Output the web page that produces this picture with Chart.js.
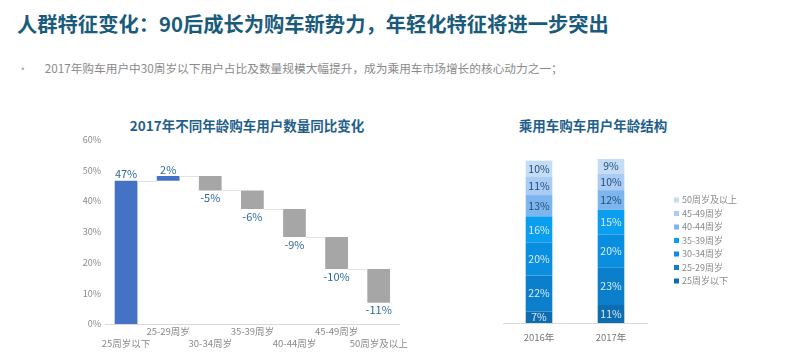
<!DOCTYPE html>
<html>
<head>
<meta charset="utf-8">
<script src="https://cdn.jsdelivr.net/npm/chart.js@4"></script>
<style>
  body { margin: 0; width: 800px; height: 358px; background: #fff; position: relative; overflow: hidden;
         font-family: "Noto Sans CJK SC", "Noto Sans", sans-serif; }
  .title { position: absolute; left: 17px; top: 8px; font-size: 20.3px; font-weight: bold; color: #1a5b7c; white-space: nowrap; }
  .bullet { position: absolute; left: 17px; top: 59px; font-size: 11.7px; color: #8a8a8a; white-space: nowrap; }
  .bullet span { margin-right: 16px; color: #b0b0b0; }
  .sub { position: absolute; font-size: 13.5px; font-weight: bold; color: #1f5f8c; white-space: nowrap; transform: translateX(-50%); }
  .box { position: absolute; }
</style>
</head>
<body>
<div class="title">人群特征变化：90后成长为购车新势力，年轻化特征将进一步突出</div>
<div class="bullet"><span>•</span>2017年购车用户中30周岁以下用户占比及数量规模大幅提升，成为乘用车市场增长的核心动力之一；</div>
<div class="sub" style="left:247px; top:115px;">2017年不同年龄购车用户数量同比变化</div>
<div class="sub" style="left:593px; top:115px;">乘用车购车用户年龄结构</div>
<div class="box" style="left:60px; top:130px; width:350px; height:222px;"><canvas id="waterfall"></canvas></div>
<div class="box" style="left:460px; top:150px; width:330px; height:195px;"><canvas id="structure"></canvas></div>
<script>
// 左图：各年龄段同比变化（瀑布）
const ageGroups = ["25周岁以下", "25-29周岁", "30-34周岁", "35-39周岁", "40-44周岁", "45-49周岁", "50周岁及以上"];
const changeValues = [46.6, 1.5, -4.7, -6.0, -9.1, -10.4, -11.0];
const changeTicks = [0, 10, 20, 30, 40, 50, 60];

// 右图：年龄结构
const years = ["2016年", "2017年"];
const structureGroups = ["25周岁以下", "25-29周岁", "30-34周岁", "35-39周岁", "40-44周岁", "45-49周岁", "50周岁及以上"];
const share2016 = [7, 22, 20, 16, 13, 11, 10];
const share2017 = [11, 23, 20, 15, 12, 10, 9];
const structureColors = ["#0d6db0", "#0b7fcc", "#0a8ee0", "#0a9ef0", "#7db6ef", "#a9cbf4", "#c5dcf6"];
const structureText = ["#dcecfa", "#dcecfa", "#dcecfa", "#dcecfa", "#1f4e7a", "#1f4e7a", "#1f4e7a"];

const labelFont = '"Noto Sans CJK SC", "Noto Sans", sans-serif';

// waterfall ranges from the changes
let level = 0;
const ranges = changeValues.map(v => {
  const r = [level, level + v];
  level += v;
  return r;
});

const waterfallLabels = {
  id: "waterfallLabels",
  afterDatasetsDraw(chart) {
    const ctx = chart.ctx;
    const meta = chart.getDatasetMeta(0);
    const y = chart.scales.y;
    ctx.save();
    // connectors
    ctx.strokeStyle = "#e3e3e3";
    ctx.lineWidth = 1;
    for (let i = 0; i < ranges.length - 1; i++) {
      const a = meta.data[i], b = meta.data[i + 1];
      const yy = Math.round(y.getPixelForValue(ranges[i][1])) + 0.5;
      ctx.beginPath();
      ctx.moveTo(a.x + a.width / 2, yy);
      ctx.lineTo(b.x - b.width / 2, yy);
      ctx.stroke();
    }
    ctx.font = "11px " + labelFont;
    ctx.fillStyle = "#2c6a99";
    ctx.textAlign = "center";
    changeValues.forEach((v, i) => {
      const bar = meta.data[i];
      const txt = Math.round(v) + "%";
      if (v >= 0) {
        ctx.textBaseline = "bottom";
        ctx.fillText(txt, bar.x, y.getPixelForValue(ranges[i][1]) - 1);
      } else {
        ctx.textBaseline = "top";
        ctx.fillText(txt, bar.x, y.getPixelForValue(ranges[i][1]) + 2);
      }
    });
    ctx.restore();
  }
};

new Chart(document.getElementById("waterfall"), {
  type: "bar",
  data: {
    labels: ageGroups.map((g, i) => i % 2 === 0 ? ["", g] : [g, ""]),
    datasets: [{
      data: ranges,
      backgroundColor: changeValues.map(v => v >= 0 ? "#4472c4" : "#a6a6a6"),
      barPercentage: 0.54,
      categoryPercentage: 1
    }]
  },
  options: {
    responsive: true,
    maintainAspectRatio: false,
    animation: false,
    layout: { padding: { top: 9, right: 4, left: 0, bottom: 0 } },
    plugins: { legend: { display: false }, tooltip: { enabled: false } },
    scales: {
      x: {
        grid: { display: false, drawTicks: false },
        border: { color: "#d9d9d9" },
        ticks: { color: "#8a8a8a", font: { size: 9.5, family: labelFont }, maxRotation: 0, autoSkip: false, padding: 2,
                 lineHeight: 1.25 },
        afterFit(scale) { scale.height = 28; }
      },
      y: {
        min: 0,
        max: 60,
        grid: { display: false, drawTicks: false },
        border: { display: false },
        afterBuildTicks(scale) { scale.ticks = changeTicks.map(v => ({ value: v })); },
        ticks: { color: "#8a8a8a", font: { size: 9, family: labelFont }, padding: 4, callback: v => v + "%" },
        afterFit(scale) { scale.width = 45; }
      }
    }
  },
  plugins: [waterfallLabels]
});

const structureLabels = {
  id: "structureLabels",
  afterDatasetsDraw(chart) {
    const ctx = chart.ctx;
    ctx.save();
    ctx.font = "10.5px " + labelFont;
    ctx.textAlign = "center";
    ctx.textBaseline = "middle";
    chart.data.datasets.forEach((ds, di) => {
      const meta = chart.getDatasetMeta(di);
      ctx.fillStyle = structureText[di];
      meta.data.forEach((bar, i) => {
        ctx.fillText(ds.data[i] + "%", bar.x, (bar.y + bar.base) / 2);
      });
    });
    // legend, top item = oldest group
    const area = chart.chartArea;
    ctx.font = "9px " + labelFont;
    ctx.textAlign = "left";
    const x0 = area.right + 27;
    const y0 = 200 - 150;
    for (let k = 0; k < structureGroups.length; k++) {
      const di = structureGroups.length - 1 - k;
      const yy = y0 + k * 13.5;
      ctx.fillStyle = structureColors[di];
      ctx.fillRect(x0, yy - 2.5, 5, 5);
      ctx.fillStyle = "#8a8a8a";
      ctx.fillText(structureGroups[di], x0 + 8, yy);
    }
    ctx.restore();
  }
};

new Chart(document.getElementById("structure"), {
  type: "bar",
  data: {
    labels: years,
    datasets: structureGroups.map((g, i) => ({
      label: g,
      data: [share2016[i], share2017[i]],
      backgroundColor: structureColors[i],
      barPercentage: 0.37,
      categoryPercentage: 1
    }))
  },
  options: {
    responsive: true,
    maintainAspectRatio: false,
    animation: false,
    layout: { padding: { top: 9, right: 143, left: 43, bottom: 0 } },
    plugins: { legend: { display: false }, tooltip: { enabled: false } },
    scales: {
      x: {
        stacked: true,
        grid: { display: false, drawTicks: false },
        border: { color: "#d9d9d9" },
        ticks: { color: "#777", font: { size: 9.5, family: labelFont }, padding: 9 },
        afterFit(scale) { scale.height = 22; }
      },
      y: {
        stacked: true,
        display: false,
        min: 0,
        max: 100
      }
    }
  },
  plugins: [structureLabels]
});
</script>
</body>
</html>
